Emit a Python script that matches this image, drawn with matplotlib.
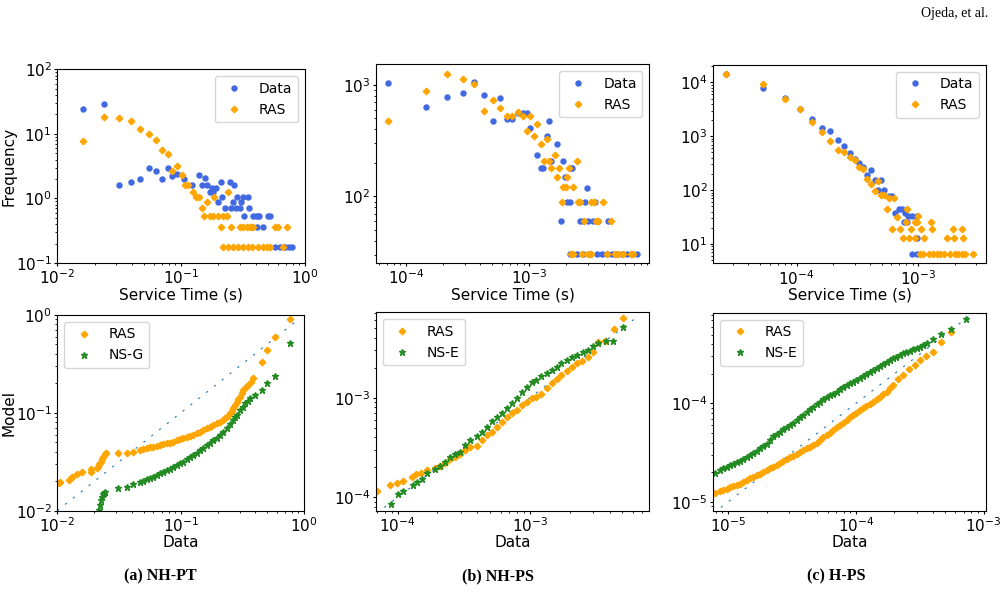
import matplotlib
matplotlib.use('Agg')
import matplotlib.pyplot as plt
from matplotlib.ticker import NullFormatter

BLUE = '#4169e1'
ORANGE = '#ffa500'
GREEN = '#228b22'

# ---- (a) NH-PT, histogram of service times ----
a_data_x = [0.0162, 0.024, 0.0316, 0.0394, 0.0468, 0.055, 0.0622, 0.070, 0.0778, 0.085,
            0.093, 0.106, 0.123, 0.14, 0.155, 0.147, 0.162, 0.171, 0.178, 0.18,
            0.19, 0.2, 0.209, 0.215, 0.224, 0.247, 0.253, 0.261, 0.267, 0.276,
            0.284, 0.299, 0.306, 0.316, 0.324, 0.345, 0.355, 0.376, 0.383, 0.40,
            0.408, 0.415, 0.428, 0.461, 0.506, 0.525, 0.573, 0.63, 0.69, 0.748, 0.78]
a_data_y = [24, 29, 1.6, 1.8, 2.0, 3.0, 2.7, 2.0, 3.0, 2.2,
            2.4, 2.0, 1.6, 2.3, 2.1, 1.6, 1.6, 1.24, 1.43, 1.25,
            1.43, 0.89, 1.79, 1.07, 0.71, 1.79, 0.71, 0.89, 1.6, 0.71,
            1.07, 0.71, 0.89, 1.07, 0.535, 1.07, 0.71, 0.357, 0.535, 0.535,
            0.357, 0.535, 0.535, 0.357, 0.535, 0.535, 0.179, 0.179, 0.179, 0.179, 0.179]
a_ras_x = [0.0162, 0.024, 0.0315, 0.0394, 0.0468, 0.055, 0.0622, 0.070, 0.0778, 0.085,
           0.093, 0.101, 0.107, 0.114, 0.124, 0.132, 0.14, 0.147, 0.153, 0.162,
           0.171, 0.182, 0.185, 0.2, 0.209, 0.219, 0.234, 0.238, 0.253, 0.299,
           0.318, 0.339, 0.36, 0.383, 0.573, 0.61, 0.72,
           0.219, 0.24, 0.264, 0.29, 0.318, 0.349, 0.372, 0.42, 0.461, 0.497, 0.522, 0.67]
a_ras_y = [7.8, 18.1, 17.5, 15.9, 11.7, 10, 7.9, 5.7, 4.9, 2.7,
           3.2, 2.3, 1.6, 1.6, 1.24, 1.07, 1.07, 0.71, 0.535, 0.89,
           0.535, 0.535, 1.07, 0.535, 0.357, 0.535, 0.535, 1.24, 0.357, 0.357,
           0.357, 0.357, 0.357, 0.357, 0.357, 0.357, 0.357,
           0.179, 0.179, 0.179, 0.179, 0.179, 0.179, 0.179, 0.179, 0.179, 0.179, 0.179, 0.179]

# ---- (b) NH-PS ----
b_data_x = [7.2e-5, 1.44e-4, 2.15e-4, 2.88e-4, 3.58e-4, 4.31e-4, 5.07e-4, 5.78e-4, 6.55e-4, 7.24e-4,
            8.04e-4, 8.83e-4, 9.5e-4, 1.02e-3, 1.16e-3, 1.24e-3, 1.3e-3, 1.38e-3, 1.45e-3, 1.51e-3,
            1.67e-3, 1.82e-3, 1.89e-3, 1.95e-3, 2.03e-3, 2.14e-3, 2.16e-3, 2.2e-3, 2.83e-3, 2.92e-3,
            3.4e-3, 2.58e-3, 2.74e-3, 3.01e-3, 3.3e-3, 3.62e-3, 4.36e-3,
            2.14e-3, 2.42e-3, 2.74e-3, 3.1e-3, 3.52e-3, 3.86e-3, 4.24e-3, 4.66e-3, 5.1e-3, 5.61e-3,
            6.15e-3, 6.76e-3, 7.41e-3]
b_data_y = [1040, 640, 787, 841, 1071, 813, 470, 760, 497, 497,
            557, 557, 557, 409, 236, 179, 179, 351, 470, 206,
            294, 60, 206, 148, 90, 90, 179, 179, 90, 119,
            90, 60, 60, 60, 60, 60, 60,
            30.5, 30.5, 30.5, 30.5, 30.5, 30.5, 30.5, 30.5, 30.5, 30.5,
            30.5, 30.5, 30.5]
b_ras_x = [7.2e-5, 1.44e-4, 2.15e-4, 2.88e-4, 3.58e-4, 4.31e-4, 5.07e-4, 5.78e-4, 6.55e-4, 7.24e-4,
           8.04e-4, 8.83e-4, 9.5e-4, 1.02e-3, 1.09e-3, 1.16e-3, 1.24e-3, 1.32e-3, 1.38e-3, 1.45e-3,
           1.51e-3, 1.6e-3, 1.67e-3, 1.75e-3, 1.83e-3, 1.89e-3, 1.98e-3, 2.03e-3, 2.11e-3, 2.26e-3,
           2.42e-3, 2.5e-3, 2.58e-3, 3.14e-3, 3.34e-3, 3.94e-3, 2.79e-3, 3.47e-3, 3.62e-3, 4.56e-3,
           2.16e-3, 2.28e-3, 2.66e-3, 3.01e-3, 3.16e-3, 4.24e-3, 4.95e-3, 5.27e-3, 5.78e-3, 6.63e-3, 6.97e-3]
b_ras_y = [470, 877, 1246, 1132, 1021, 589, 735, 618, 531, 531,
           569, 531, 390, 531, 351, 442, 297, 210, 326, 210,
           179, 236, 150, 179, 90, 121, 121, 150, 179, 121,
           208, 90, 90, 90, 90, 90, 60.5, 60.5, 60.5, 60.5,
           30.5, 30.5, 30.5, 30.5, 30.5, 30.5, 30.5, 30.5, 30.5, 30.5, 30.5]

# ---- (c) H-PS ----
c_data_x = [2.62e-5, 5.33e-5, 8.0e-5, 1.06e-4, 1.35e-4, 1.63e-4, 1.9e-4, 2.17e-4, 2.45e-4, 2.74e-4,
            3.01e-4, 3.27e-4, 3.53e-4, 3.81e-4, 4.08e-4, 4.4e-4, 4.69e-4, 4.93e-4, 5.26e-4, 5.78e-4,
            6.1e-4, 6.43e-4, 6.93e-4, 7.3e-4, 7.62e-4, 7.77e-4, 8.28e-4, 8.1e-4, 8.82e-4, 9.68e-4,
            9.7e-4, 8.82e-4, 9.81e-4]
c_data_y = [14300, 7960, 5040, 3150, 2060, 1440, 1270, 851, 659, 482,
            378, 314, 265, 191, 237, 154, 100, 154, 100, 77.8,
            78, 38.2, 44, 44, 25.6, 38, 33, 25.6, 33, 33,
            12.8, 6.4, 6.4]
c_ras_x = [2.62e-5, 5.33e-5, 8.0e-5, 1.06e-4, 1.35e-4, 1.63e-4, 1.9e-4, 2.17e-4, 2.45e-4, 2.74e-4,
           3.01e-4, 3.27e-4, 3.53e-4, 3.81e-4, 4.08e-4, 4.4e-4, 4.69e-4, 4.93e-4, 5.26e-4, 5.56e-4,
           5.78e-4, 6.31e-4, 6.64e-4, 8.02e-4, 1.0e-3, 7.87e-4, 9.33e-4, 9.75e-4, 1.26e-3,
           6.04e-4, 7.07e-4, 8.65e-4, 1.06e-3, 1.29e-3, 1.94e-3, 2.27e-3,
           7.53e-4, 8.38e-4, 9.39e-4, 1.12e-3, 1.71e-3, 1.98e-3, 2.34e-3,
           1.03e-3, 1.09e-3, 1.22e-3, 1.32e-3, 1.42e-3, 1.5e-3, 1.64e-3, 1.81e-3, 1.99e-3, 2.12e-3,
           2.3e-3, 2.4e-3, 2.82e-3]
c_ras_y = [14300, 9180, 4840, 3150, 1810, 1180, 828, 556, 503, 418,
           362, 265, 250, 161, 128, 96, 148, 81.5, 81.5, 44,
           70.5, 70.5, 32, 44.6, 33, 25.6, 25.6, 25.6, 25.6,
           19, 19, 19, 19, 19, 19, 19,
           12.8, 12.8, 12.8, 12.8, 12.8, 12.8, 12.8,
           6.4, 6.4, 6.4, 6.4, 6.4, 6.4, 6.4, 6.4, 6.4, 6.4,
           6.4, 6.4, 6.4]

# ---- QQ plots (bottom row) ----
d_ras_x = [0.01037, 0.0106, 0.0125, 0.0128, 0.0131, 0.0145, 0.016, 0.0186, 0.0186, 0.0211,
           0.0215, 0.0219, 0.0225, 0.0229, 0.0236, 0.0243, 0.0248, 0.0313, 0.037, 0.0408,
           0.0468, 0.0498, 0.053, 0.0564, 0.060, 0.0639, 0.068, 0.0723, 0.077, 0.082,
           0.087, 0.0929, 0.099, 0.105, 0.112, 0.119, 0.127, 0.135, 0.144, 0.153,
           0.163, 0.173, 0.184, 0.196, 0.208, 0.219, 0.229, 0.240, 0.251, 0.259,
           0.267, 0.276, 0.284, 0.294, 0.303, 0.312, 0.322, 0.339, 0.354, 0.37,
           0.388, 0.454, 0.498, 0.582, 0.769]
d_ras_y = [0.019, 0.0198, 0.0206, 0.0214, 0.0222, 0.0237, 0.0251, 0.0251, 0.0265, 0.0271,
           0.0282, 0.030, 0.0317, 0.0335, 0.0356, 0.0379, 0.0392, 0.0385, 0.0392, 0.0401,
           0.0417, 0.0427, 0.0434, 0.0443, 0.0451, 0.0458, 0.0466, 0.0476, 0.0488, 0.0495,
           0.0507, 0.0523, 0.0536, 0.0553, 0.057, 0.058, 0.0593, 0.0617, 0.0641, 0.0668,
           0.0695, 0.0722, 0.0751, 0.0781, 0.0813, 0.0845, 0.0879, 0.0929, 0.0989, 0.1045,
           0.111, 0.120, 0.130, 0.137, 0.146, 0.158, 0.171, 0.182, 0.192, 0.208,
           0.225, 0.333, 0.439, 0.601, 0.903]
d_ns_x = [0.0219, 0.0222, 0.0225, 0.0229, 0.0233, 0.0239, 0.0243, 0.0313, 0.037, 0.0408,
          0.0468, 0.0498, 0.053, 0.0564, 0.060, 0.0639, 0.068, 0.0723, 0.077, 0.082,
          0.087, 0.0929, 0.099, 0.105, 0.112, 0.119, 0.127, 0.135, 0.144, 0.153,
          0.163, 0.173, 0.184, 0.196, 0.208, 0.222, 0.236, 0.251, 0.267, 0.276,
          0.284, 0.303, 0.318, 0.332, 0.349, 0.365, 0.401, 0.454, 0.498, 0.582, 0.769]
d_ns_y = [0.01016, 0.0114, 0.0129, 0.0139, 0.0147, 0.0153, 0.0156, 0.0169, 0.0176, 0.0188,
          0.0198, 0.0203, 0.0209, 0.0214, 0.0223, 0.0230, 0.0241, 0.0248, 0.0261, 0.0269,
          0.0282, 0.0291, 0.0305, 0.0317, 0.0335, 0.0351, 0.0371, 0.0392, 0.0417, 0.0440,
          0.0469, 0.0495, 0.0528, 0.0557, 0.0593, 0.0637, 0.0695, 0.0763, 0.0845, 0.0899,
          0.095, 0.107, 0.1156, 0.125, 0.133, 0.141, 0.152, 0.171, 0.203, 0.240, 0.521]

e_ras_x = [6.94e-5, 8.75e-5, 9.94e-5, 1.09e-4, 1.28e-4, 1.38e-4, 1.49e-4, 1.68e-4, 1.91e-4, 2.09e-4,
           2.28e-4, 2.49e-4, 2.71e-4, 2.96e-4, 3.23e-4, 3.52e-4, 3.95e-4, 4.31e-4, 4.71e-4, 5.13e-4,
           5.6e-4, 6.1e-4, 6.67e-4, 7.27e-4, 7.93e-4, 8.65e-4, 9.44e-4, 1.03e-3, 1.12e-3, 1.22e-3,
           1.34e-3, 1.46e-3, 1.59e-3, 1.73e-3, 1.89e-3, 2.06e-3, 2.25e-3, 2.46e-3, 2.76e-3, 3.01e-3,
           3.28e-3, 3.69e-3, 4.32e-3, 5.01e-3]
e_ras_y = [1.16e-4, 1.32e-4, 1.38e-4, 1.46e-4, 1.61e-4, 1.7e-4, 1.77e-4, 1.88e-4, 1.95e-4, 2.08e-4,
           2.23e-4, 2.41e-4, 2.56e-4, 2.72e-4, 2.99e-4, 3.22e-4, 3.27e-4, 3.76e-4, 4.22e-4, 4.56e-4,
           5.12e-4, 5.74e-4, 6.35e-4, 6.97e-4, 7.52e-4, 8.44e-4, 9.12e-4, 9.84e-4, 1.02e-3, 1.1e-3,
           1.24e-3, 1.39e-3, 1.53e-3, 1.69e-3, 1.85e-3, 2.05e-3, 2.21e-3, 2.35e-3, 2.54e-3, 2.89e-3,
           3.65e-3, 3.73e-3, 4.85e-3, 6.35e-3]
e_ns_x = [8.86e-5, 1.0e-4, 1.09e-4, 1.3e-4, 1.41e-4, 1.52e-4, 1.68e-4, 1.91e-4, 2.09e-4, 2.28e-4,
          2.49e-4, 2.71e-4, 2.96e-4, 3.23e-4, 3.52e-4, 3.95e-4, 4.31e-4, 4.71e-4, 5.13e-4, 5.6e-4,
          6.1e-4, 6.67e-4, 7.27e-4, 7.93e-4, 8.65e-4, 9.44e-4, 1.03e-3, 1.12e-3, 1.22e-3, 1.34e-3,
          1.46e-3, 1.59e-3, 1.73e-3, 1.89e-3, 2.06e-3, 2.25e-3, 2.53e-3, 2.76e-3, 3.01e-3, 3.28e-3,
          3.75e-3, 4.27e-3, 5.01e-3]
e_ns_y = [8.57e-5, 1.08e-4, 1.16e-4, 1.33e-4, 1.43e-4, 1.52e-4, 1.74e-4, 1.91e-4, 2.06e-4, 2.28e-4,
          2.52e-4, 2.72e-4, 2.87e-4, 3.35e-4, 3.76e-4, 4.12e-4, 4.56e-4, 5.12e-4, 5.87e-4, 6.45e-4,
          7.07e-4, 7.81e-4, 8.9e-4, 9.84e-4, 1.15e-3, 1.27e-3, 1.42e-3, 1.5e-3, 1.65e-3, 1.78e-3,
          1.9e-3, 2.05e-3, 2.21e-3, 2.39e-3, 2.58e-3, 2.68e-3, 2.85e-3, 3.01e-3, 3.3e-3, 3.56e-3,
          3.73e-3, 3.73e-3, 5.15e-3]

f_ras_x = [7.86e-6, 8.6e-6, 9.7e-6, 1.09e-5, 1.23e-5, 1.39e-5, 1.57e-5, 1.77e-5, 2.0e-5, 2.25e-5,
           2.54e-5, 2.86e-5, 3.23e-5, 3.64e-5, 4.11e-5, 4.63e-5, 5.22e-5, 5.89e-5, 6.64e-5, 7.5e-5,
           8.45e-5, 9.53e-5, 1.07e-4, 1.21e-4, 1.37e-4, 1.54e-4, 1.74e-4, 1.96e-4, 2.15e-4, 2.35e-4,
           2.62e-4, 2.9e-4, 3.17e-4, 3.53e-4, 4.03e-4, 4.63e-4, 5.61e-4,
           9.14e-6, 1.03e-5, 1.16e-5, 1.31e-5, 1.48e-5, 1.67e-5, 1.88e-5, 2.12e-5, 2.39e-5, 2.70e-5,
           3.04e-5, 3.43e-5, 3.87e-5, 4.36e-5, 4.92e-5, 5.55e-5, 6.25e-5, 7.06e-5, 7.96e-5, 8.97e-5,
           1.01e-4, 1.14e-4, 1.29e-4, 1.45e-4, 1.64e-4, 1.85e-4]
f_ras_y = [1.22e-5, 1.27e-5, 1.36e-5, 1.44e-5, 1.53e-5, 1.66e-5, 1.79e-5, 1.91e-5, 2.1e-5, 2.27e-5,
           2.45e-5, 2.7e-5, 2.94e-5, 3.22e-5, 3.48e-5, 3.77e-5, 4.24e-5, 4.76e-5, 5.35e-5, 6.02e-5,
           6.77e-5, 7.61e-5, 8.56e-5, 9.4e-5, 1.04e-4, 1.17e-4, 1.32e-4, 1.54e-4, 1.75e-4, 1.94e-4,
           2.22e-4, 2.45e-4, 2.76e-4, 3.03e-4, 3.35e-4, 4.23e-4, 5.36e-4,
           1.32e-5, 1.40e-5, 1.49e-5, 1.60e-5, 1.73e-5, 1.85e-5, 2.00e-5, 2.18e-5, 2.36e-5, 2.57e-5,
           2.82e-5, 3.08e-5, 3.35e-5, 3.62e-5, 3.98e-5, 4.51e-5, 5.03e-5, 5.70e-5, 6.36e-5, 7.21e-5,
           8.04e-5, 8.97e-5, 9.93e-5, 1.10e-4, 1.24e-4, 1.42e-4]
f_ns_x = [7.86e-6, 8.6e-6, 9.7e-6, 1.09e-5, 1.23e-5, 1.39e-5, 1.57e-5, 1.77e-5, 2.0e-5, 2.25e-5,
          2.54e-5, 2.86e-5, 3.23e-5, 3.64e-5, 4.11e-5, 4.63e-5, 5.22e-5, 5.89e-5, 6.64e-5, 7.5e-5,
          8.45e-5, 9.53e-5, 1.07e-4, 1.21e-4, 1.37e-4, 1.54e-4, 1.74e-4, 1.96e-4, 2.21e-4, 2.49e-4,
          2.81e-4, 3.17e-4, 3.58e-4, 4.03e-4, 4.63e-4, 5.61e-4, 7.28e-4,
          9.14e-6, 1.03e-5, 1.16e-5, 1.31e-5, 1.48e-5, 1.67e-5, 1.88e-5, 2.12e-5, 2.39e-5, 2.70e-5,
          3.04e-5, 3.43e-5, 3.87e-5, 4.36e-5, 4.92e-5, 5.55e-5, 6.25e-5, 7.06e-5, 7.96e-5, 8.97e-5,
          1.01e-4, 1.14e-4, 1.29e-4, 1.45e-4, 1.64e-4, 1.85e-4, 2.08e-4, 2.35e-4, 2.65e-4, 2.99e-4,
          3.37e-4]
f_ns_y = [1.94e-5, 2.1e-5, 2.27e-5, 2.41e-5, 2.61e-5, 2.82e-5, 3.15e-5, 3.48e-5, 3.85e-5, 4.65e-5,
          5.15e-5, 5.7e-5, 6.36e-5, 7.2e-5, 8.22e-5, 9.24e-5, 1.04e-4, 1.15e-4, 1.26e-4, 1.39e-4,
          1.54e-4, 1.66e-4, 1.8e-4, 1.99e-4, 2.18e-4, 2.4e-4, 2.66e-4, 2.87e-4, 3.1e-4, 3.35e-4,
          3.54e-4, 3.77e-4, 4.07e-4, 4.47e-4, 5.04e-4, 5.7e-4, 7.15e-4,
          2.18e-5, 2.34e-5, 2.51e-5, 2.72e-5, 2.98e-5, 3.30e-5, 3.68e-5, 4.24e-5, 4.88e-5, 5.44e-5,
          6.02e-5, 6.77e-5, 7.67e-5, 8.69e-5, 9.84e-5, 1.10e-4, 1.21e-4, 1.32e-4, 1.46e-4, 1.60e-4,
          1.73e-4, 1.90e-4, 2.08e-4, 2.29e-4, 2.51e-4, 2.76e-4, 2.98e-4, 3.22e-4, 3.43e-4, 3.66e-4,
          3.92e-4]

# extent of the y = x reference line in each QQ plot
diag_a = [0.01, 0.9]
diag_b = [6.9e-5, 6.4e-3]
diag_c = [7.6e-6, 1.0e-3]

captions = ['(a) NH-PT', '(b) NH-PS', '(c) H-PS']

W, H = 1004, 594
fig = plt.figure(figsize=(W / 100, H / 100), dpi=100)
plt.rcParams['font.size'] = 11


def add_ax(l, t, r, b):
    return fig.add_axes([l / W, (H - b) / H, (r - l) / W, (b - t) / H])


def style(ax, xlim, ylim):
    ax.set_xscale('log')
    ax.set_yscale('log')
    ax.set_xlim(*xlim)
    ax.set_ylim(*ylim)
    ax.xaxis.set_minor_formatter(NullFormatter())
    ax.yaxis.set_minor_formatter(NullFormatter())
    ax.tick_params(which='major', labelsize=11, length=2.5, pad=1.5)
    ax.tick_params(which='minor', length=1.5)


def hist_panel(ax, dx, dy, rx, ry, xlim, ylim):
    ax.plot(dx, dy, 'o', color=BLUE, ms=3.6, label='Data')
    ax.plot(rx, ry, 'D', color=ORANGE, ms=3.3, label='RAS')
    style(ax, xlim, ylim)
    ax.set_xlabel('Service Time (s)', labelpad=0, fontsize=11)
    ax.legend(loc='upper right', fontsize=10)


def qq_panel(ax, rx, ry, nx, ny, diag, ns_label, xlim, ylim):
    ax.plot(diag, diag, color='C0', lw=0.8, ls=(0, (2.0, 7.0)))
    ax.plot(rx, ry, 'D', color=ORANGE, ms=3.3, label='RAS')
    ax.plot(nx, ny, '*', color=GREEN, ms=4.5, label=ns_label)
    style(ax, xlim, ylim)
    ax.set_xlabel('Data', labelpad=0, fontsize=11)
    ax.legend(loc='upper left', fontsize=10)


ax1 = add_ax(57.3, 69.3, 305, 263)
hist_panel(ax1, a_data_x, a_data_y, a_ras_x, a_ras_y, (0.01, 1), (0.1, 100))
ax1.set_ylabel('Frequency', fontsize=11)
ax1.yaxis.set_label_coords(-0.165, 0.5)

ax2 = add_ax(375.7, 64.3, 649.3, 263)
hist_panel(ax2, b_data_x, b_data_y, b_ras_x, b_ras_y, (5.67e-5, 9.4e-3), (25.3, 1531))

ax3 = add_ax(713.3, 64.7, 986, 263.3)
hist_panel(ax3, c_data_x, c_data_y, c_ras_x, c_ras_y, (2.07e-5, 3.6e-3), (4.38, 21300))

ax4 = add_ax(57.3, 315, 304, 510.7)
qq_panel(ax4, d_ras_x, d_ras_y, d_ns_x, d_ns_y, diag_a, 'NS-G', (0.01, 1), (0.01, 1))
ax4.set_ylabel('Model', fontsize=11)
ax4.yaxis.set_label_coords(-0.165, 0.5)

ax5 = add_ax(375.7, 312.3, 649, 510.7)
qq_panel(ax5, e_ras_x, e_ras_y, e_ns_x, e_ns_y, diag_b, 'NS-E', (6.83e-5, 7.93e-3), (7.35e-5, 7.18e-3))

ax6 = add_ax(713.3, 312.7, 985.7, 510.7)
qq_panel(ax6, f_ras_x, f_ras_y, f_ns_x, f_ns_y, diag_c, 'NS-E', (7.63e-6, 1.04e-3), (8.1e-6, 8.36e-4))

for xc, cap in zip([160, 498, 836], captions):
    fig.text(xc / W, (H - 576) / H, cap, ha='center', va='center',
             family='Liberation Serif', weight='bold', fontsize=11.5)
fig.text(988 / W, (H - 14) / H, 'Ojeda, et al.', ha='right', va='center',
         family='Liberation Serif', fontsize=10)

fig.savefig('out.png', dpi=100)
